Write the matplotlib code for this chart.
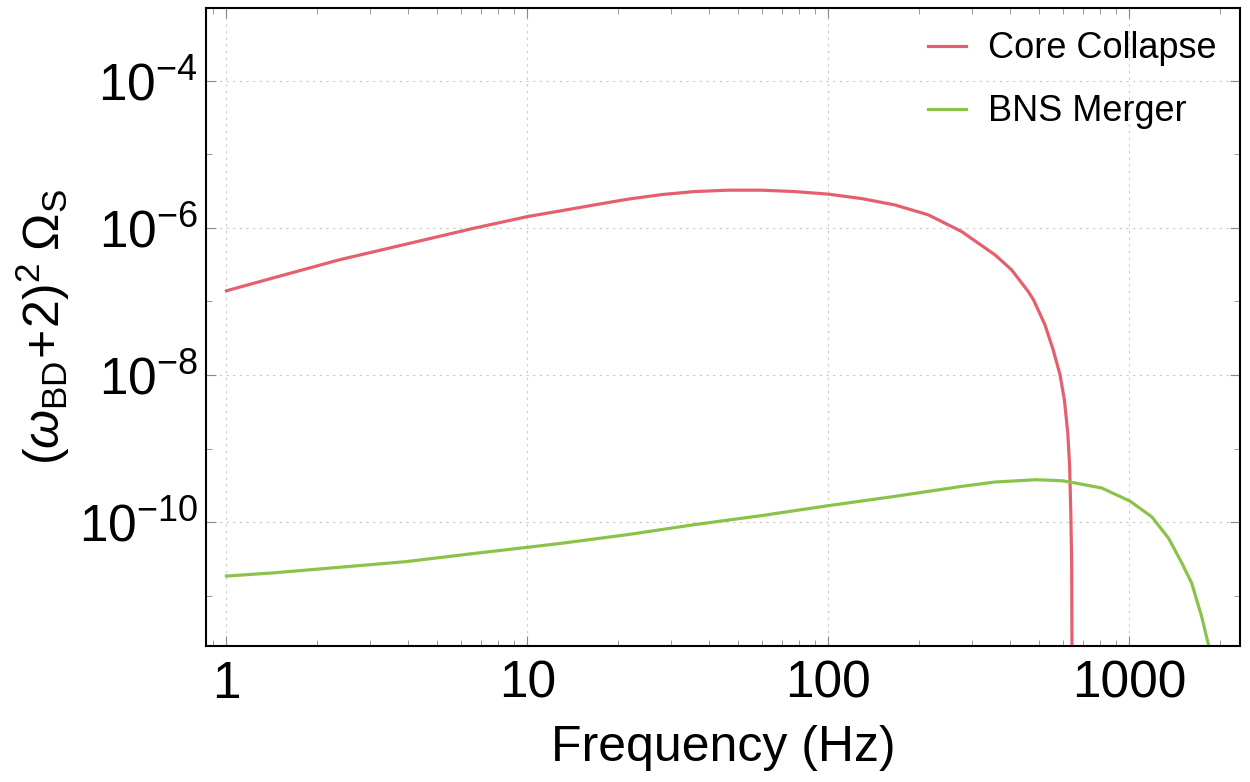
import matplotlib
matplotlib.use("Agg")
import matplotlib.pyplot as plt
import numpy as np
from matplotlib.ticker import FixedLocator, FixedFormatter, LogFormatterSciNotation, NullFormatter

plt.rcParams["font.family"] = ["Liberation Sans", "DejaVu Sans"]
plt.rcParams["mathtext.fontset"] = "custom"
plt.rcParams["mathtext.rm"] = "Liberation Sans"
plt.rcParams["mathtext.it"] = "Liberation Sans:italic"
plt.rcParams["mathtext.bf"] = "Liberation Sans:bold"

# Core collapse spectrum: frequency (Hz), log10 of the y value
cc_freq = [1, 1.42, 2.37, 3.95, 6.58, 10, 12.9, 16.7, 21.6, 27.9, 35.9, 46.4,
           59.8, 77.2, 100, 128.9, 166, 214.6, 276.9, 357.5, 406, 461, 480,
           524, 558, 588, 608, 624, 633, 639, 643, 646]
cc_log_omega = [-6.856, -6.684, -6.435, -6.222, -6.009, -5.847, -5.769, -5.688,
                -5.610, -5.548, -5.507, -5.488, -5.488, -5.507, -5.542, -5.602,
                -5.688, -5.823, -6.050, -6.367, -6.571, -6.865, -6.978, -7.318,
                -7.658, -7.997, -8.337, -8.790, -9.240, -9.920, -10.600, -13.0]

# BNS merger spectrum
bns_freq = [1, 1.42, 2.37, 3.95, 6.58, 10, 12.9, 21.6, 35.9, 59.8, 100,
            166, 277, 357, 490, 596, 643, 809, 1004, 1186, 1349, 1493, 1610,
            1739, 1831, 1910]
bns_log_omega = [-10.734, -10.692, -10.615, -10.538, -10.429, -10.343, -10.290,
                 -10.170, -10.035, -9.913, -9.777, -9.651, -9.515,
                 -9.456, -9.424, -9.438, -9.460, -9.537, -9.715, -9.928, -10.220,
                 -10.556, -10.830, -11.290, -11.670, -12.0]

x_major = [1, 10, 100, 1000]
x_labels = ["1", "10", "100", "1000"]
y_major = [1e-10, 1e-8, 1e-6, 1e-4]
y_minor = [1e-11, 1e-9, 1e-7, 1e-5, 1e-3]

fig = plt.figure(figsize=(12.5, 7.82), dpi=100)
ax = fig.add_axes([0.165, 0.174, 0.827, 0.816])

ax.plot(cc_freq, np.power(10.0, cc_log_omega), color="#E5606F", lw=2.3,
        label="Core Collapse")
ax.plot(bns_freq, np.power(10.0, bns_log_omega), color="#8BC34A", lw=2.3,
        label="BNS Merger")

ax.set_xscale("log")
ax.set_yscale("log")
ax.set_xlim(0.857, 2330)
ax.set_ylim(2.07e-12, 9.8e-4)

ax.xaxis.set_major_locator(FixedLocator(x_major))
ax.xaxis.set_major_formatter(FixedFormatter(x_labels))
ax.yaxis.set_major_locator(FixedLocator(y_major))
ax.yaxis.set_major_formatter(LogFormatterSciNotation())
ax.yaxis.set_minor_locator(FixedLocator(y_minor))
ax.yaxis.set_minor_formatter(NullFormatter())

ax.tick_params(which="both", direction="in", top=True, right=True,
               colors="#888888", labelcolor="black")
ax.tick_params(which="major", length=7, width=0.8, labelsize=37)
ax.tick_params(axis="x", which="major", pad=10)
ax.tick_params(axis="y", which="major", pad=6)
ax.tick_params(which="minor", length=4, width=0.6)

ax.grid(True, which="major", color="#c8c8c8", lw=0.8, linestyle=(0, (2, 4)))
for s in ax.spines.values():
    s.set_linewidth(1.5)
    s.set_color("black")

ax.set_xlabel("Frequency (Hz)", fontsize=36, labelpad=12)
ax.set_ylabel(r"$(\omega_{\mathrm{BD}}\!+\!2)^2\;\Omega_{\mathrm{S}}$", fontsize=36, labelpad=5)

ax.legend(loc="upper right", frameon=False, fontsize=26, handlelength=1.05,
          handletextpad=0.6, labelspacing=0.78, borderaxespad=0.25)

fig.savefig("out.png", dpi=100)
